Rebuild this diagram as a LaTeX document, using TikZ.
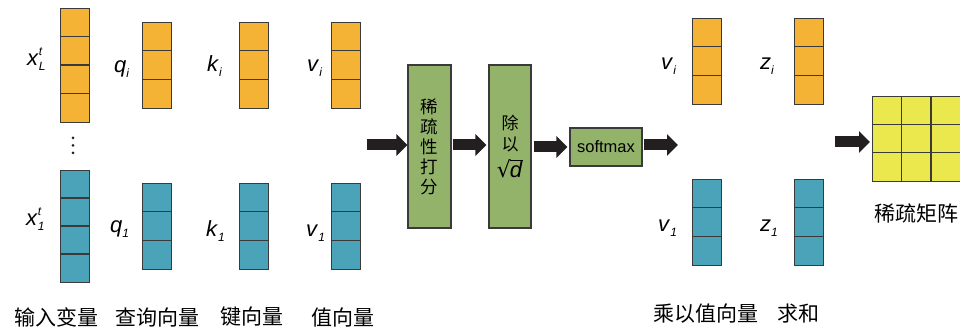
\documentclass[tikz,border=0pt]{standalone}
\usepackage{fontspec}
\setmainfont{Liberation Sans}
\newfontfamily\cjk{Noto Sans CJK SC}
\newfontfamily\dejavu{DejaVu Sans}
\usetikzlibrary{arrows.meta}
\definecolor{corange}{HTML}{F4B334}
\definecolor{cteal}{HTML}{4AA3B9}
\definecolor{cgreen}{HTML}{93B36B}
\definecolor{cyellow}{HTML}{EBE84E}
\definecolor{cborder}{HTML}{3A3A3A}
\definecolor{carrow}{HTML}{231F20}
\newcommand\mylab[3]{\textit{#1}\makebox[0pt][l]{\raisebox{10pt}{\fontsize{12}{12}\selectfont\itshape #3}}\raisebox{-4.5pt}{\fontsize{12}{12}\selectfont\itshape #2}}
\newcommand\mycol[6]{%
  \node[col, fill=#5, minimum height=#4*#6pt] (#1) at (#2,#3) {};
  \pgfmathtruncatemacro\mylast{#4-1}
  \foreach \k in {1,...,\mylast}
    \draw[cellline] ([yshift=-\k*#6pt]#1.north west) -- ([yshift=-\k*#6pt]#1.north east);
}
\begin{document}
\begin{tikzpicture}[x=1pt,y=-1pt,
  col/.style={draw=cborder, line width=1.1pt, inner sep=0pt, minimum width=28.5pt, anchor=north west},
  cellline/.style={draw=cborder, line width=1.1pt},
  gbox/.style={draw=cborder, fill=cgreen, line width=1.1pt, inner sep=0pt, align=center},
  fat/.style={line width=11pt, draw=carrow, -{Triangle[length=11pt,width=21pt]}},
  lab/.style={anchor=base west, inner sep=0pt, font=\fontsize{22}{22}\selectfont},
  cn/.style={font=\cjk\fontsize{21}{21}\selectfont, inner sep=0pt}]
\useasboundingbox (0,0) rectangle (960,328);

% left columns
\mycol{xL}{60}{8}{4}{corange}{28.5}
\mycol{qi}{142}{22}{3}{corange}{28.67}
\mycol{ki}{239}{22}{3}{corange}{28.67}
\mycol{vi}{331}{22}{3}{corange}{28.67}
\mycol{xone}{60}{170}{4}{cteal}{28}
\mycol{qone}{142}{183}{3}{cteal}{28.67}
\mycol{kone}{239}{183}{3}{cteal}{28.67}
\mycol{vone}{331}{183}{3}{cteal}{28.67}
% right columns
\mycol{rvi}{692}{18}{3}{corange}{28.67}
\mycol{zi}{794}{18}{3}{corange}{28.67}
\mycol{rvone}{692}{179}{3}{cteal}{28.67}
\mycol{zone}{794}{179}{3}{cteal}{28.67}

% dots
\foreach \yy in {138,145.5,153} \fill[carrow] (73,\yy) circle (1.5pt);

% labels
\node[lab] (lxL) at (27,66) {\mylab{x}{L}{t}};
\node[lab] (lqi) at (114,73) {\mylab{q}{i}{}};
\node[lab] (lki) at (207,72) {\mylab{k}{i}{}};
\node[lab] (lvi) at (307,72) {\mylab{v}{i}{}};
\node[lab] (lxone) at (26,226) {\mylab{x}{1}{t}};
\node[lab] (lqone) at (110,233) {\mylab{q}{1}{}};
\node[lab] (lkone) at (206,237) {\mylab{k}{1}{}};
\node[lab] (lvone) at (306,237) {\mylab{v}{1}{}};
\node[lab] (lrvi) at (661,70) {\mylab{v}{i}{}};
\node[lab] (lzi) at (760,70) {\mylab{z}{i}{}};
\node[lab] (lrvone) at (658,232) {\mylab{v}{1}{}};
\node[lab] (lzone) at (760,232) {\mylab{z}{1}{}};

% boxes
\node[gbox, minimum width=43pt, minimum height=163pt, font=\cjk\fontsize{17.5}{20}\selectfont] (box1) at (429.5,146.5) {稀\\疏\\性\\打\\分};
\node[gbox, minimum width=42pt, minimum height=163pt, font=\cjk\fontsize{17}{21}\selectfont] (box2) at (510,146.5)
  {除\\以\\[6pt]\fontsize{22}{22}\selectfont{\dejavu √}\kern-1pt\vbox{\hrule height 1pt\kern 1pt\hbox{\rmfamily\itshape d\kern1pt}}};
\node[gbox, minimum width=72pt, minimum height=38pt, font=\fontsize{16.5}{18}\selectfont] (soft) at (606,147) {softmax};

% matrix
\node[draw=cborder, fill=cyellow, line width=1.1pt, inner sep=0pt, minimum width=88.5pt, minimum height=85pt, anchor=north west] (mat) at (872,96) {};
\foreach \dx in {29.5,59} \draw[cellline] ([xshift=\dx pt]mat.north west) -- ([xshift=\dx pt]mat.south west);
\foreach \dy in {28.3,56.7} \draw[cellline] ([yshift=-\dy pt]mat.north west) -- ([yshift=-\dy pt]mat.north east);

% arrows
\coordinate (a1s) at (367,145);
\coordinate (a4e) at (678,145);
\coordinate (a5s) at (835,142);
\draw[fat] (a1s) -- (box1.west |- a1s);
\draw[fat, shorten <=1pt, shorten >=2pt] (box1.east |- a1s) -- (box2.west |- a1s);
\draw[fat, shorten <=2pt, shorten >=2pt] (box2.east |- soft.west) -- (soft.west);
\draw[fat, shorten <=1pt] (soft.east |- a4e) -- (a4e);
\draw[fat, shorten >=2pt] (a5s) -- (mat.west |- a5s);

% Chinese labels
\node[cn] (t1) at (56,317) {输入变量};
\node[cn] (t2) at (157,317) {查询向量};
\node[cn] (t3) at (252,317) {键向量};
\node[cn] (t4) at (343,317) {值向量};
\node[cn] (t5) at (706,314) {乘以值向量};
\node[cn] (t6) at (798,314) {求和};
\node[cn] (t7) at (916,213) {稀疏矩阵};
\end{tikzpicture}
\end{document}
